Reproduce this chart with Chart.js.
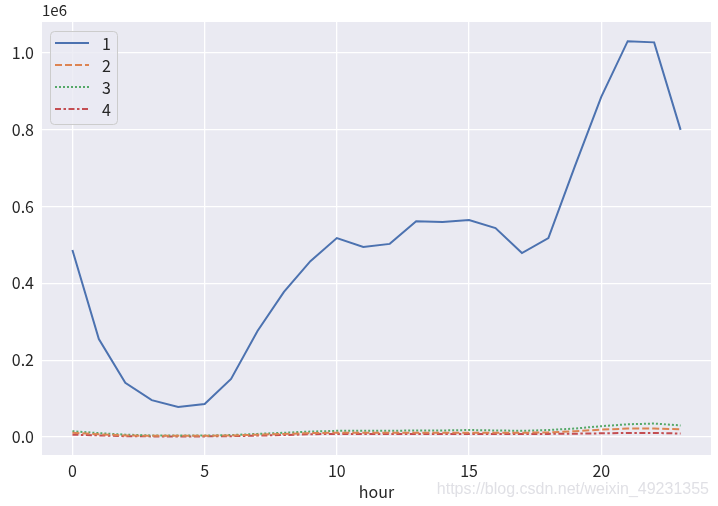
<!DOCTYPE html>
<html>
<head>
<meta charset="utf-8">
<script src="https://cdn.jsdelivr.net/npm/chart.js@4/dist/chart.umd.min.js"></script>
<style>
  body { margin: 0; background: #ffffff; }
  #wrap { width: 718px; height: 506px; }
</style>
</head>
<body>
<div id="wrap"><canvas id="chart" width="718" height="506"></canvas></div>
<script>
// hourly values
const hours = [0, 1, 2, 3, 4, 5, 6, 7, 8, 9, 10, 11, 12, 13, 14, 15, 16, 17, 18, 19, 20, 21, 22, 23];
const series1 = [487000, 255000, 141000, 96000, 78000, 86000, 151000, 276000, 378000, 458000, 518000, 495000, 503000, 562000, 560000, 565000, 544000, 479000, 518000, 705000, 886000, 1031000, 1028000, 800000];
const series2 = [11000, 7000, 4000, 3000, 3000, 3000, 4000, 6000, 8000, 10000, 11000, 11000, 11000, 11000, 11000, 11000, 11000, 11000, 12000, 15000, 19000, 22000, 22000, 20000];
const series3 = [15000, 10000, 6000, 4000, 3500, 3500, 5000, 8000, 11000, 14000, 16000, 16000, 16000, 17000, 17000, 18000, 17000, 16000, 18000, 22000, 28000, 33000, 35000, 30000];
const series4 = [6000, 4000, 2000, 1500, 1500, 1500, 2000, 3500, 5000, 7000, 8000, 8000, 8000, 8000, 8000, 8000, 8000, 7500, 8000, 8500, 9500, 10500, 10500, 9000];
const seriesNames = ["1", "2", "3", "4"];
const xTicks = [0, 5, 10, 15, 20];
const yTicks = [0, 200000, 400000, 600000, 800000, 1000000];

const FONT = '"Noto Sans CJK SC", "DejaVu Sans", sans-serif';
const colors = ["#4C72B0", "#DD8452", "#55A868", "#C44E52"];
const dashes = [[], [7, 3], [2, 2], [6, 2.5, 2.5, 2.5]];

// axes background, offset text, watermark and the inside legend
const decorPlugin = {
  id: 'decor',
  beforeDraw(chart) {
    const {ctx, chartArea: a} = chart;
    ctx.save();
    ctx.fillStyle = "#EAEAF2";
    ctx.fillRect(a.left, a.top, a.right - a.left, a.bottom - a.top);
    ctx.restore();
  },
  afterDraw(chart) {
    const {ctx, chartArea: a} = chart;
    ctx.save();
    ctx.fillStyle = "#262626";
    ctx.font = "15px " + FONT;
    ctx.textBaseline = "alphabetic";
    ctx.textAlign = "left";
    ctx.fillText("1e6", a.left, a.top - 6);

    // legend
    const x0 = a.left + 8, y0 = a.top + 9, w = 67, h = 93;
    ctx.beginPath();
    ctx.roundRect(x0 + 0.5, y0 + 0.5, w, h, 4);
    ctx.fillStyle = "rgba(234,234,242,0.8)";
    ctx.fill();
    ctx.strokeStyle = "#cccccc";
    ctx.lineWidth = 1;
    ctx.stroke();
    chart.data.datasets.forEach((ds, i) => {
      const y = y0 + 12 + i * 22;
      ctx.beginPath();
      ctx.setLineDash(ds.borderDash || []);
      ctx.strokeStyle = ds.borderColor;
      ctx.lineWidth = 2;
      ctx.moveTo(x0 + 5, y);
      ctx.lineTo(x0 + 39, y);
      ctx.stroke();
      ctx.setLineDash([]);
      ctx.fillStyle = "#262626";
      ctx.font = "16px " + FONT;
      ctx.textBaseline = "middle";
      ctx.fillText(ds.label, x0 + 52, y + 1);
    });

    // watermark
    ctx.font = '16px "Liberation Sans", sans-serif';
    ctx.textAlign = "right";
    ctx.textBaseline = "alphabetic";
    ctx.fillStyle = "rgba(222,222,228,0.95)";
    ctx.fillText("https://blog.csdn.net/weixin_49231355", 709, 494);
    ctx.restore();
  }
};

const seriesList = [series1, series2, series3, series4];

new Chart(document.getElementById("chart").getContext("2d"), {
  type: 'line',
  data: {
    datasets: seriesList.map((s, i) => ({
      label: seriesNames[i],
      data: hours.map((h, j) => ({x: h, y: s[j]})),
      borderColor: colors[i],
      borderDash: dashes[i],
      borderWidth: 2,
      pointRadius: 0,
      fill: false,
      tension: 0
    }))
  },
  options: {
    responsive: false,
    animation: false,
    layout: {padding: {left: 0, right: 7, top: 22, bottom: 0}},
    plugins: {
      legend: {display: false},
      tooltip: {enabled: false}
    },
    scales: {
      x: {
        type: 'linear',
        min: -1.15,
        max: 24.15,
        afterBuildTicks: (scale) => { scale.ticks = xTicks.map(v => ({value: v})); },
        afterFit: (scale) => { scale.height = 51; },
        grid: {color: "#ffffff", lineWidth: 1.3, drawTicks: false},
        border: {display: false},
        ticks: {color: "#262626", font: {family: FONT, size: 16}, padding: 6, maxRotation: 0},
        title: {display: true, text: "hour", color: "#262626", font: {family: FONT, size: 16}, padding: {top: 0, bottom: 4}}
      },
      y: {
        min: -47000,
        max: 1081000,
        afterBuildTicks: (scale) => { scale.ticks = yTicks.map(v => ({value: v})); },
        afterFit: (scale) => { scale.width = 42; },
        grid: {color: "#ffffff", lineWidth: 1.3, drawTicks: false},
        border: {display: false},
        ticks: {
          color: "#262626",
          font: {family: FONT, size: 16},
          padding: 8,
          callback: (v) => (v / 1e6).toFixed(1)
        }
      }
    }
  },
  plugins: [decorPlugin]
});
</script>
</body>
</html>
